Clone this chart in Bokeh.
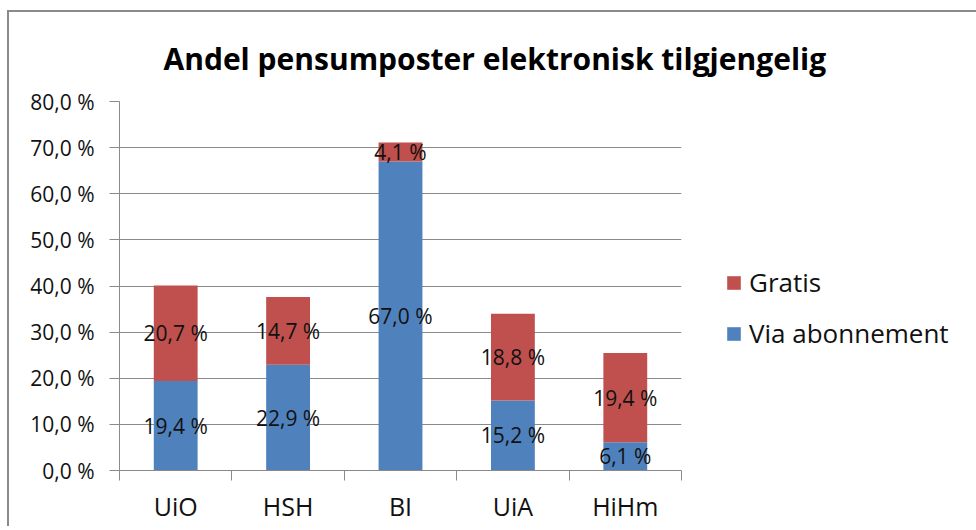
from bokeh.plotting import figure
from bokeh.models import ColumnDataSource, FixedTicker, LabelSet, Legend, LegendItem, Range1d
from bokeh.core.properties import value
from bokeh.embed import file_html
from bokeh.resources import INLINE

title_text = "Andel pensumposter elektronisk tilgjengelig"
categories = ["UiO", "HSH", "BI", "UiA", "HiHm"]
via_abonnement = [19.4, 22.9, 67.0, 15.2, 6.1]
gratis = [20.7, 14.7, 4.1, 18.8, 19.4]
series_names = ["Via abonnement", "Gratis"]
y_ticks = [0, 10, 20, 30, 40, 50, 60, 70, 80]
y_tick_labels = ["0,0 %", "10,0 %", "20,0 %", "30,0 %", "40,0 %", "50,0 %", "60,0 %", "70,0 %", "80,0 %"]

BLUE = "#4F81BD"
RED = "#C0504D"
GRID = "#8a8a8a"
FONT = "Open Sans"


def fmt(v):
    return ("%.1f" % v).replace(".", ",") + " %"


x = [i + 0.5 for i in range(len(categories))]
total = [a + b for a, b in zip(via_abonnement, gratis)]
src = ColumnDataSource(dict(
    x=x, via=via_abonnement, gratis=gratis, total=total,
    via_mid=[a / 2 for a in via_abonnement],
    gratis_mid=[a + b / 2 for a, b in zip(via_abonnement, gratis)],
    via_txt=[fmt(v) for v in via_abonnement],
    gratis_txt=[fmt(v) for v in gratis],
))

p = figure(frame_width=562, frame_height=369,
           min_border_left=110, min_border_right=290, min_border_top=89, min_border_bottom=56,
           x_range=Range1d(0, len(categories)), y_range=Range1d(y_ticks[0], y_ticks[-1]),
           output_backend="svg", toolbar_location=None, tools="")
p.margin = (10, 0, 0, 7)
p.styles = {"border-top": "2px solid #8a8a8a", "border-left": "2px solid #8a8a8a"}
p.outline_line_color = None
p.background_fill_color = "white"
p.border_fill_color = "white"

r_via = p.vbar(x="x", bottom=0, top="via", width=0.39, source=src,
               fill_color=BLUE, line_color=None)
r_gr = p.vbar(x="x", bottom="via", top="total", width=0.39, source=src,
              fill_color=RED, line_color=None)

for col, ycol in (("via_txt", "via_mid"), ("gratis_txt", "gratis_mid")):
    p.add_layout(LabelSet(x="x", y=ycol, text=col, source=src,
                          text_align="center", text_baseline="middle",
                          text_font=value(FONT), text_font_size="21px", text_color="#111111"))

# Title
p.title.text = title_text
p.title.align = "left"
p.title.offset = 44
p.title.standoff = 46
p.title.text_font = FONT
p.title.text_font_size = "30px"
p.title.text_font_style = "bold"
p.title.text_color = "black"

# X axis
xa = p.xaxis[0]
xa.ticker = FixedTicker(ticks=x, minor_ticks=list(range(len(categories) + 1)))
xa.major_label_overrides = {xi: c for xi, c in zip(x, categories)}
xa.major_tick_line_color = None
xa.major_tick_in = 0
xa.major_tick_out = 0
xa.minor_tick_in = 0
xa.minor_tick_out = 10
xa.minor_tick_line_color = GRID
xa.axis_line_color = GRID
xa.major_label_text_font = FONT
xa.major_label_text_font_size = "25px"
xa.major_label_text_color = "#111111"
xa.major_label_standoff = 8

# Y axis
ya = p.yaxis[0]
ya.ticker = FixedTicker(ticks=y_ticks)
ya.major_label_overrides = {t: l for t, l in zip(y_ticks, y_tick_labels)}
ya.major_tick_in = 0
ya.major_tick_out = 10
ya.major_tick_line_color = GRID
ya.minor_tick_line_color = None
ya.axis_line_color = GRID
ya.major_label_text_font = FONT
ya.major_label_text_font_size = "21px"
ya.major_label_text_color = "#111111"
ya.major_label_standoff = 15

p.xgrid.visible = False
p.ygrid.ticker = FixedTicker(ticks=y_ticks)
p.ygrid.grid_line_color = GRID

legend = Legend(items=[LegendItem(label=series_names[1], renderers=[r_gr]),
                       LegendItem(label=series_names[0], renderers=[r_via])],
                location=(44, 119), orientation="vertical",
                padding=0, margin=0, spacing=15,
                glyph_width=17, glyph_height=17, label_standoff=7,
                label_text_font=FONT, label_text_font_size="26px", label_text_color="#111111",
                border_line_color=None, background_fill_alpha=0)
p.add_layout(legend, "right")

open("out.html", "w").write(file_html(p, INLINE))
